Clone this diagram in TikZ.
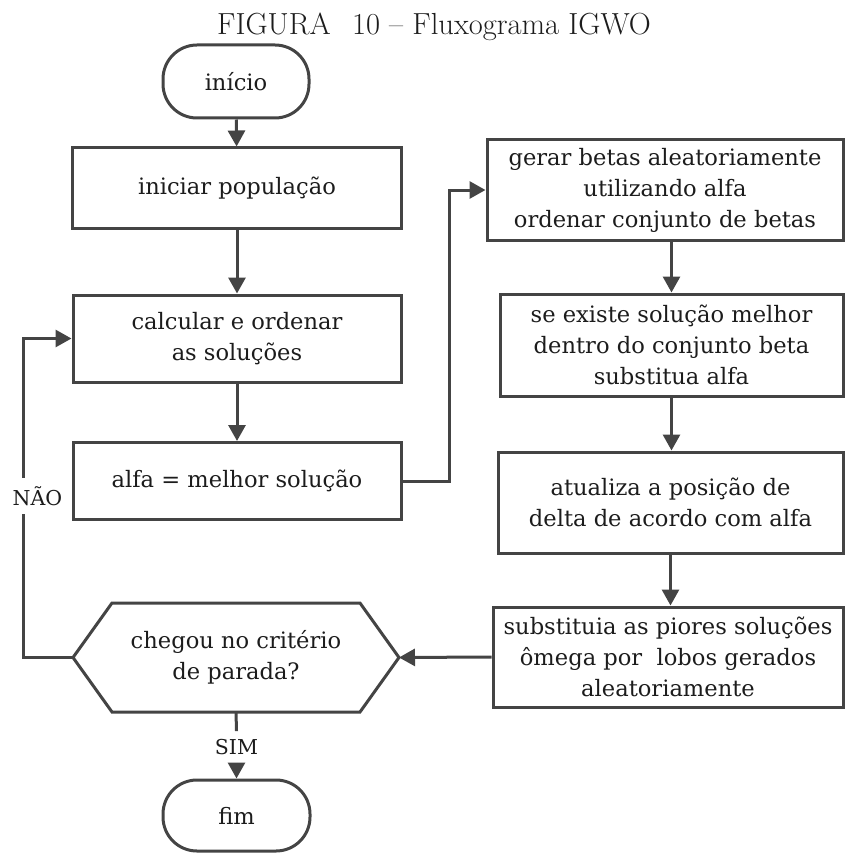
\documentclass[tikz,border=0pt]{standalone}
\usepackage{fontspec}
\newfontfamily\boxfont{DejaVu Serif}
\usetikzlibrary{arrows.meta,calc}
\definecolor{linegray}{RGB}{68,68,68}
\definecolor{inkgray}{RGB}{28,28,28}
\tikzset{
  flow/.style={draw=linegray, line width=3pt, text=inkgray,
    font=\boxfont\fontsize{22.6}{31}\selectfont, align=center, inner sep=0pt},
  procbox/.style={flow, rectangle},
  terminal/.style={flow, rectangle, rounded corners=34pt},
  arr/.style={draw=linegray, line width=3pt, -{Triangle[width=17pt,length=16pt]}},
  plainline/.style={draw=linegray, line width=3pt},
  edgelabel/.style={text=inkgray, font=\boxfont\fontsize{20.5}{24}\selectfont, inner xsep=2pt, inner ysep=8pt},
}
\begin{document}
\begin{tikzpicture}[x=1pt, y=-1pt]
  \useasboundingbox (0,0) rectangle (845,853);

  % caption
  \node[anchor=base, text=inkgray, font=\fontsize{30.5}{36}\selectfont, inner sep=0pt]
    (title) at (434,35) {FIGURA\hspace{0.7em}10 – Fluxograma IGWO};

  % left column
  \node[terminal, minimum width=146pt, minimum height=73pt] (start) at (236,81.5) {início};
  \node[procbox, minimum width=329pt, minimum height=80pt] (init) at (237,188) {iniciar população};
  \node[procbox, minimum width=328pt, minimum height=87pt] (calc) at (237,338.5) {calcular e ordenar\\as soluções};
  \node[procbox, minimum width=328pt, minimum height=77pt] (alfa) at (237,481) {alfa = melhor solução};

  % decision (hexagon drawn around the node's anchors)
  \node[flow, draw=none, outer sep=0pt, minimum width=326pt, minimum height=109pt]
    (dec) at (236,657.5) {chegou no critério\\de parada?};
  \draw[plainline, line join=miter]
    (dec.west) -- ($(dec.north west)+(39,0)$) -- ($(dec.north east)+(-39,0)$)
    -- (dec.east) -- ($(dec.south east)+(-39,0)$) -- ($(dec.south west)+(39,0)$) -- cycle;

  \node[terminal, minimum width=147pt, minimum height=71pt] (end) at (236.5,815.5) {fim};

  % right column
  \node[procbox, minimum width=356pt, minimum height=100pt] (gerar) at (665,190)
    {gerar betas aleatoriamente\\utilizando alfa\\ordenar conjunto de betas};
  \node[procbox, minimum width=343pt, minimum height=102pt] (seex) at (671.5,345)
    {se existe solução melhor\\dentro do conjunto beta\\substitua alfa};
  \node[procbox, minimum width=345pt, minimum height=101pt] (atual) at (670.5,502.5)
    {atualiza a posição de\\delta de acordo com alfa};
  \node[procbox, minimum width=350pt, minimum height=100pt] (subst) at (668,657)
    {substituia as piores soluções\\ômega por~ lobos gerados\\aleatoriamente};

  % helper columns for the routed connectors
  \coordinate (bendx) at (449,0);
  \coordinate (loopx) at (23,0);

  % connectors
  \draw[arr] (start) -- (init);
  \draw[arr] (init) -- (calc);
  \draw[arr] (calc) -- (alfa);
  \draw[arr] (alfa.east) -- (alfa.east -| bendx) |- (gerar.west);
  \draw[arr] (gerar.south -| seex.north) -- (seex.north);
  \draw[arr] (seex.south) -- (seex.south |- atual.north);
  \draw[arr] (atual.south) -- (atual.south |- subst.north);
  \draw[arr] (subst.west) -- (dec.east);

  % loop back when the stop criterion is not met
  \draw[arr] (dec.west) -- (dec.west -| loopx) -- (loopx |- calc.west) -- (calc.west);
  \node[edgelabel, fill=white] (nao) at (37.5,496) {NÃO};

  % exit when the stop criterion is met
  \node[edgelabel] (sim) at (236.5,747) {SIM};
  \draw[plainline] (dec.south) -- (sim.north);
  \draw[arr] (sim.south) -- (end.north);
\end{tikzpicture}
\end{document}
